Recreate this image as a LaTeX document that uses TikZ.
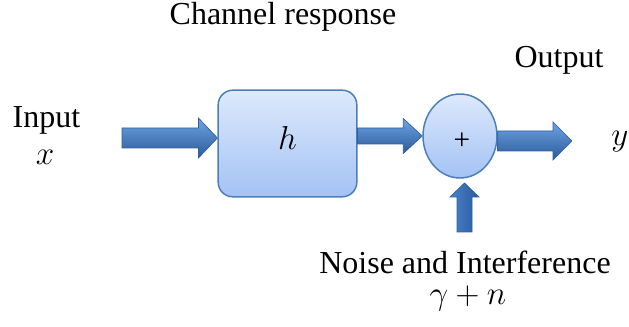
\documentclass[tikz,border=0pt]{standalone}
\usepackage{fontspec}
\setmainfont{Liberation Serif}
\usetikzlibrary{shapes.geometric,calc}

\definecolor{rimblue}{HTML}{4A7EBB}
\definecolor{filltop}{HTML}{DDE9FC}
\definecolor{fillbot}{HTML}{A4C2F4}
\definecolor{arrlight}{HTML}{6FA3E3}
\definecolor{arrmid}{HTML}{4A82CB}
\definecolor{arrdark}{HTML}{2A5A9A}
\definecolor{arredge}{HTML}{2F5F9E}

% block arrow pointing right: #1 start, #2 tip, #3 half shaft, #4 half head, #5 head length (px)
\newcommand\rightblock[5]{%
  \path[blockarrowh] let \p1=#1, \p2=#2 in
    (\x1,\y2+#3*0.75pt) -- (\x2-#5*0.75pt,\y2+#3*0.75pt) -- (\x2-#5*0.75pt,\y2+#4*0.75pt)
    -- (\x2,\y2) -- (\x2-#5*0.75pt,\y2-#4*0.75pt) -- (\x2-#5*0.75pt,\y2-#3*0.75pt)
    -- (\x1,\y2-#3*0.75pt) -- cycle;}
% block arrow pointing up
\newcommand\upblock[5]{%
  \path[blockarrowv] let \p1=#1, \p2=#2 in
    (\x2-#3*0.75pt,\y1) -- (\x2-#3*0.75pt,\y2-#5*0.75pt) -- (\x2-#4*0.75pt,\y2-#5*0.75pt)
    -- (\x2,\y2) -- (\x2+#4*0.75pt,\y2-#5*0.75pt) -- (\x2+#3*0.75pt,\y2-#5*0.75pt)
    -- (\x2+#3*0.75pt,\y1) -- cycle;}

\begin{document}
\begin{tikzpicture}[x=0.75pt,y=-0.75pt,
  lbl/.style={font=\fontsize{24}{28}\selectfont, inner sep=0pt, anchor=base},
  chanbox/.style={draw=rimblue, line width=1.1pt, rounded corners=11pt,
    top color=filltop, bottom color=fillbot, minimum width=104pt, minimum height=80pt, inner sep=0pt},
  sumnode/.style={ellipse, draw=rimblue, line width=1.1pt,
    top color=filltop, bottom color=fillbot, minimum width=55.5pt, minimum height=63pt, inner sep=0pt},
  blockarrowh/.style={draw=arredge, line width=0.5pt, line join=miter,
    top color=arrlight, middle color=arrmid, bottom color=arrdark},
  blockarrowv/.style={draw=arredge, line width=0.5pt, line join=miter,
    left color=arrmid, middle color=arrlight, right color=arrdark}]

\useasboundingbox (0,0) rectangle (629,327);

% blocks
\node[chanbox] (chan) at (287.5,143.5) {};
\node[sumnode] (sum) at (460,136) {};
\node[inner sep=0pt, font=\fontsize{22}{24}\selectfont] (plus) at ($(sum.center)+(2,5)$) {+};

% free arrow ends
\coordinate (in) at (122,138);
\coordinate (out) at (572,141);
\coordinate (noise) at (464.5,232);
\coordinate (noisetip) at (464.5,183);

% arrows
\rightblock{(in)}{(in -| chan.west)}{10}{20}{19}
\rightblock{(chan.east |- sum.west)}{(sum.west)}{8}{17.5}{19}
\rightblock{(out -| sum.east)}{(out)}{10}{19}{19}
\upblock{(noise)}{(noisetip)}{7.5}{14.5}{14}

% texts
\node[lbl] (chanlbl) at (283,25) {Channel response};
\node[lbl] (outlbl) at (559,68) {Output};
\node[lbl] (inlbl) at (46.5,128) {Input};
\node[lbl] (xlbl) at (45,165) {$x$};
\node[lbl] (ylbl) at (620,146) {$y$};
\node[lbl] (hlbl) at (chan.center |- 0,150) {$h$};
\node[lbl] (noiselbl) at (465,274) {Noise and Interference};
\node[lbl] (gnlbl) at (468,305) {$\gamma+n$};
\end{tikzpicture}
\end{document}
